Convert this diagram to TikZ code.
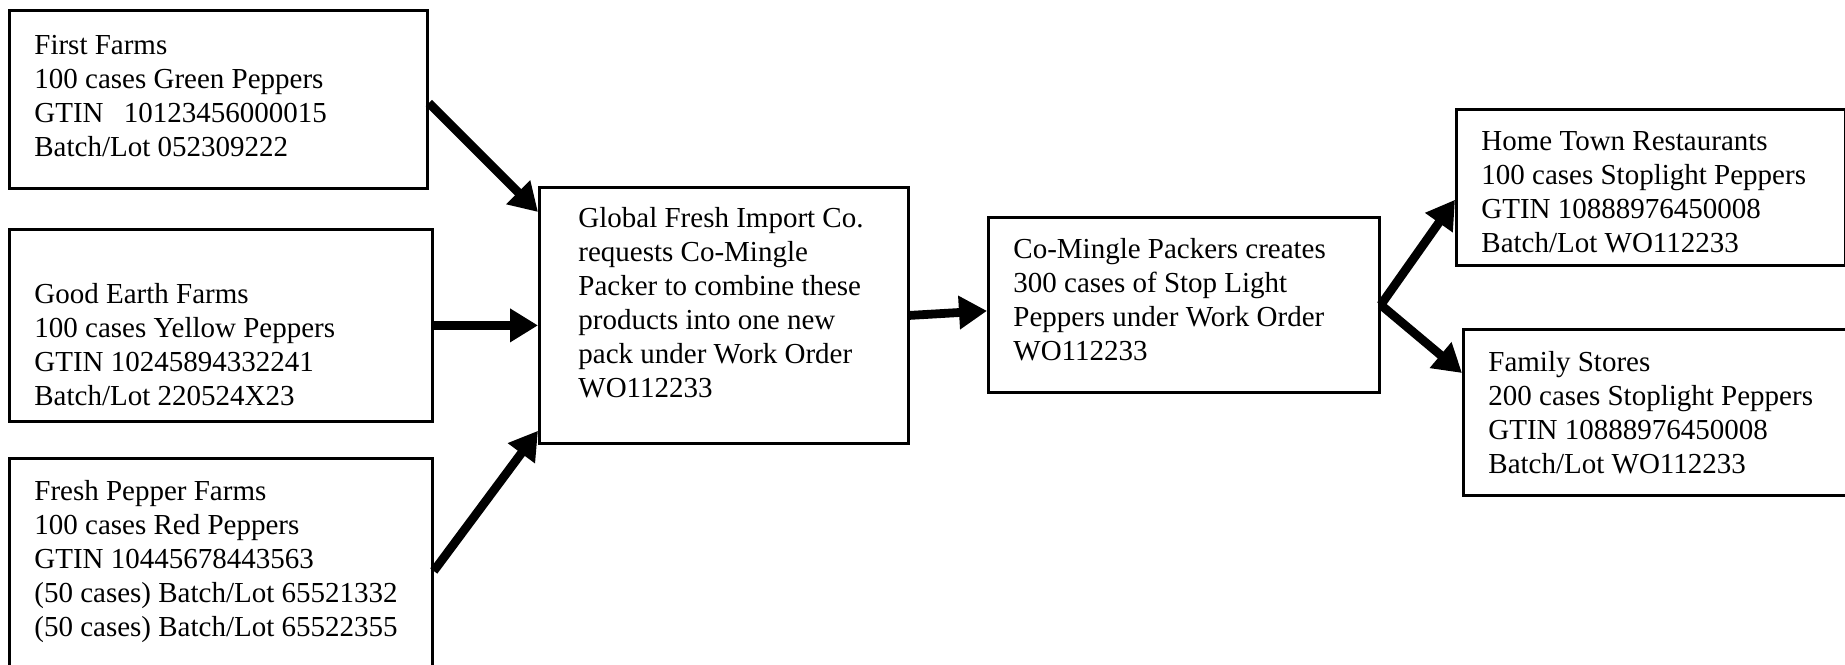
\documentclass[tikz,border=0pt]{standalone}
\usepackage{fontspec}
\setmainfont{Liberation Serif}
\usetikzlibrary{arrows.meta}
\tikzset{
  box/.style={draw=black, line width=1.4pt, rectangle, inner sep=0pt, fill=none},
  txt/.style={anchor=north west, inner sep=0pt, align=left, font=\fontsize{14.5pt}{17pt}\selectfont},
  arr/.style={line width=4.4pt, -{Triangle[length=14pt,width=16pt]}}
}
\begin{document}
\begin{tikzpicture}[x=0.5pt,y=-0.5pt]
\clip (0,0) rectangle (1845,664);
\fill[white] (0,0) rectangle (1845,664);
% boxes
\node[box, minimum width=209pt, minimum height=89pt, anchor=north west] (b1) at (8,9) {};
\node[box, minimum width=211.5pt, minimum height=96pt, anchor=north west] (b2) at (8,228) {};
\node[box, minimum width=211.5pt, minimum height=112pt, anchor=north west] (b3) at (8,457) {};
\node[box, minimum width=184.5pt, minimum height=128pt, anchor=north west] (b4) at (538,186) {};
\node[box, minimum width=195.5pt, minimum height=87.5pt, anchor=north west] (b5) at (987,216) {};
\node[box, minimum width=194.5pt, minimum height=78pt, anchor=north west] (b6) at (1455,108) {};
\node[box, minimum width=200pt, minimum height=83pt, anchor=north west] (b7) at (1462,328) {};
% texts (first baseline minus strut height)
\node[txt] (t1) at (34,30.5) {\strut First Farms\\100 cases Green Peppers\\GTIN\hspace{0.7em}10123456000015\\Batch/Lot 052309222};
\node[txt] (t2) at (34,279.5) {\strut Good Earth Farms\\100 cases Yellow Peppers\\GTIN 10245894332241\\Batch/Lot 220524X23};
\node[txt] (t3) at (34,476.5) {\strut Fresh Pepper Farms\\100 cases Red Peppers\\GTIN 10445678443563\\(50 cases) Batch/Lot 65521332\\(50 cases) Batch/Lot 65522355};
\node[txt] (t4) at (578,203.5) {\strut Global Fresh Import Co.\\requests Co-Mingle\\Packer to combine these\\products into one new\\pack under Work Order\\WO112233};
\node[txt] (t5) at (1013,234.5) {\strut Co-Mingle Packers creates\\300 cases of Stop Light\\Peppers under Work Order\\WO112233};
\node[txt] (t6) at (1481,126.5) {\strut Home Town Restaurants\\100 cases Stoplight Peppers\\GTIN 10888976450008\\Batch/Lot WO112233};
\node[txt] (t7) at (1488,347.5) {\strut Family Stores\\200 cases Stoplight Peppers\\GTIN 10888976450008\\Batch/Lot WO112233};
% connectors
\draw[arr] ([yshift=-47pt]b1.north east) -- ([yshift=-13pt]b4.north west);
\draw[arr] (b2.east) -- (b2.east -| b4.west);
\draw[arr] ([yshift=-57pt]b3.north east) -- ([yshift=7pt]b4.south west);
\draw[arr] (b4.east) -- ([yshift=-3pt]b5.west);
\draw[arr] (b5.east) -- ([yshift=33.5pt]b6.south west);
\draw[arr] (b5.east) -- ([yshift=-22.5pt]b7.north west);
\end{tikzpicture}
\end{document}
